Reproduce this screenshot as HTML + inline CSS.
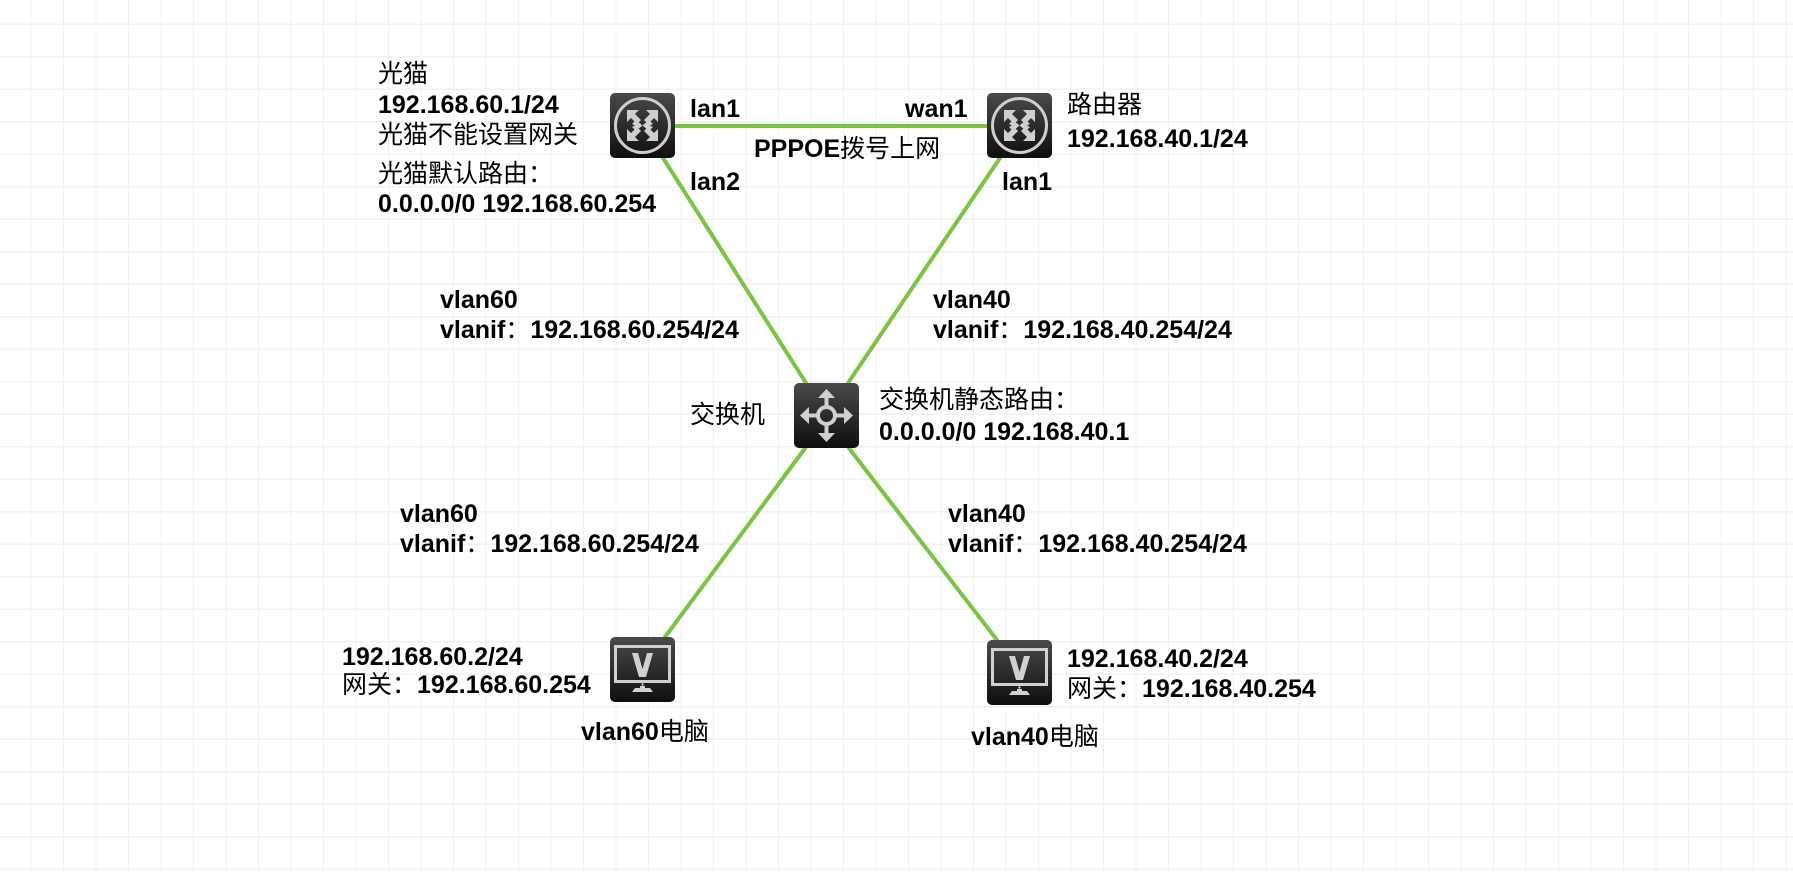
<!DOCTYPE html>
<html><head><meta charset="utf-8"><style>
html,body{margin:0;padding:0;background:#fff;}
svg{display:block;}
text{font-family:"Liberation Sans","Noto Sans CJK SC",sans-serif;font-size:25px;fill:#000;font-weight:bold;}
.c{font-weight:normal;}
</style></head><body>
<svg width="1793" height="872" viewBox="0 0 1793 872" xmlns="http://www.w3.org/2000/svg">
<defs>
<pattern id="g" x="-1" y="-7.5" width="32.5" height="32.5" patternUnits="userSpaceOnUse">
<rect x="31.5" y="0" width="3" height="32.5" fill="#f1f1f1"/>
<rect x="0" y="31" width="32.5" height="3" fill="#f1f1f1"/>
</pattern>
<linearGradient id="dk" x1="0" y1="0" x2="0" y2="1">
<stop offset="0" stop-color="#4a4a4a"/><stop offset="1" stop-color="#0e0e0e"/>
</linearGradient>
<g id="router">
<rect x="0" y="0" width="65" height="65" rx="5" fill="url(#dk)"/>
<circle cx="32.5" cy="32.5" r="27" fill="none" stroke="#cfcfcf" stroke-width="3"/>
<g fill="#cfcfcf">
<polygon points="17,17 29,17 25,21 31,27 27,31 21,25 17,29"/>
<polygon points="48,17 48,29 44,25 38,31 34,27 40,21 36,17"/>
<polygon points="17,48 17,36 21,40 27,34 31,38 25,44 29,48"/>
<polygon points="48,48 36,48 40,44 34,38 38,34 44,40 48,36"/>
<polygon points="26,27 32.5,32.5 26,38 22,34 25,32.5 22,31"/>
<polygon points="39,27 32.5,32.5 39,38 43,34 40,32.5 43,31"/>
</g>
</g>
<g id="switch">
<rect x="0" y="0" width="65" height="65" rx="5" fill="url(#dk)"/>
<g stroke="#d0d0d0" stroke-width="4" fill="none">
<circle cx="32.5" cy="32.5" r="8.5"/>
<line x1="32.5" y1="24" x2="32.5" y2="11"/><line x1="32.5" y1="41" x2="32.5" y2="54"/>
<line x1="24" y1="32.5" x2="11" y2="32.5"/><line x1="41" y1="32.5" x2="54" y2="32.5"/>
</g>
<g fill="#d0d0d0">
<polygon points="32.5,6 24,15 41,15"/><polygon points="32.5,59 24,50 41,50"/>
<polygon points="6,32.5 15,24 15,41"/><polygon points="59,32.5 50,24 50,41"/>
</g>
</g>
<g id="pc">
<rect x="0" y="0" width="65" height="65" rx="5" fill="url(#dk)"/>
<rect x="5.5" y="9.5" width="54" height="35" fill="none" stroke="#d0d0d0" stroke-width="3"/>
<polygon points="22,16 28,16 32.5,32 37,16 43,16 36,40 29,40" fill="#d0d0d0"/>
<circle cx="32.5" cy="47.5" r="1.2" fill="#d0d0d0"/>
<rect x="30" y="49" width="5" height="3" fill="#d0d0d0"/>
<polygon points="22,55 43,55 40,51 25,51" fill="#d0d0d0"/>
</g>
</defs>
<rect width="1793" height="872" fill="#fff"/>
<rect width="1793" height="872" fill="url(#g)"/>

<g stroke="#79c543" stroke-width="4" stroke-linecap="round">
<line x1="675" y1="126" x2="987" y2="126"/>
<line x1="663" y1="158" x2="806" y2="383"/>
<line x1="1000" y1="158" x2="848" y2="383"/>
<line x1="806" y1="447" x2="665" y2="637"/>
<line x1="848" y1="447" x2="997" y2="640"/>
</g>

<use href="#router" x="610" y="93"/>
<use href="#router" x="987" y="93"/>
<use href="#switch" x="794" y="383"/>
<use href="#pc" x="610" y="637"/>
<use href="#pc" x="987" y="640"/>

<text x="378" y="82" class="c">光猫</text>
<text x="378" y="113">192.168.60.1/24</text>
<text x="378" y="143" class="c">光猫不能设置网关</text>
<text x="378" y="182" class="c">光猫默认路由：</text>
<text x="378" y="212">0.0.0.0/0 192.168.60.254</text>

<text x="690" y="117">lan1</text>
<text x="905" y="117">wan1</text>
<text x="754" y="157">PPPOE<tspan class="c">拨号上网</tspan></text>
<text x="690" y="190">lan2</text>
<text x="1002" y="190">lan1</text>

<text x="1067" y="113" class="c">路由器</text>
<text x="1067" y="147">192.168.40.1/24</text>

<text x="440" y="308">vlan60</text>
<text x="440" y="338">vlanif<tspan class="c">：</tspan>192.168.60.254/24</text>
<text x="933" y="308">vlan40</text>
<text x="933" y="338">vlanif<tspan class="c">：</tspan>192.168.40.254/24</text>

<text x="690" y="423" class="c">交换机</text>
<text x="879" y="408" class="c">交换机静态路由：</text>
<text x="879" y="440">0.0.0.0/0 192.168.40.1</text>

<text x="400" y="522">vlan60</text>
<text x="400" y="552">vlanif<tspan class="c">：</tspan>192.168.60.254/24</text>
<text x="948" y="522">vlan40</text>
<text x="948" y="552">vlanif<tspan class="c">：</tspan>192.168.40.254/24</text>

<text x="342" y="665">192.168.60.2/24</text>
<text x="342" y="693"><tspan class="c">网关：</tspan>192.168.60.254</text>
<text x="581" y="740">vlan60<tspan class="c">电脑</tspan></text>

<text x="1067" y="667">192.168.40.2/24</text>
<text x="1067" y="697"><tspan class="c">网关：</tspan>192.168.40.254</text>
<text x="971" y="745">vlan40<tspan class="c">电脑</tspan></text>
</svg>
</body></html>
